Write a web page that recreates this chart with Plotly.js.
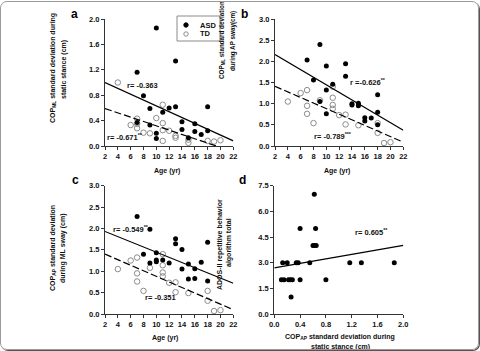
<!DOCTYPE html>
<html>
<head>
<meta charset="utf-8">
<script src="https://cdn.plot.ly/plotly-3.0.1.min.js"></script>
<style>
  html, body { margin: 0; padding: 0; background: #fff; }
  #wrap { position: relative; width: 480px; height: 351px; overflow: hidden; }
  #chart { position: absolute; left: 0; top: 0; width: 480px; height: 351px; }
  #frame { position: absolute; left: 0; top: 1px; width: 477px; height: 347px;
           border: 1px solid #9a9a9a; border-radius: 7px;
           box-shadow: 1px 1px 0 #555; pointer-events: none; }
</style>
</head>
<body>
<div id="wrap"><div id="chart"></div><div id="frame"></div></div>
<script>
// ---- Panel a: COP ML SD during static stance vs age ----
const ageA_ASD = [10, 7, 13, 8, 9, 11, 12, 13, 18, 7, 9, 14, 14, 10, 10, 15, 16, 16, 17, 18];
const copMLStatic_ASD = [1.86, 1.16, 1.34, 0.79, 0.59, 0.53, 0.60, 0.62, 0.62, 0.37, 0.33, 0.38, 0.26, 0.20, 0.12, 0.13, 0.35, 0.23, 0.18, 0.24];
const ageA_TD = [4, 7, 7, 7, 6, 8, 9, 10, 11, 11, 11, 11, 12, 13, 13, 15, 15, 18, 19, 20];
const copMLStatic_TD = [1.00, 0.43, 0.35, 0.28, 0.33, 0.21, 0.20, 0.44, 0.65, 0.36, 0.25, 0.08, 0.24, 0.16, 0.13, 0.10, 0.05, 0.08, 0.07, 0.09];

// ---- Panel b: COP ML SD during AP sway vs age ----
const ageB_ASD = [7, 9, 8, 10, 13, 13, 11, 10, 9, 10, 14, 14, 15, 15, 16, 16, 17, 18, 18, 18];
const copMLApSway_ASD = [2.03, 2.40, 1.56, 1.89, 1.94, 1.65, 1.46, 1.32, 1.05, 0.76, 0.97, 1.00, 1.01, 0.95, 0.67, 0.59, 0.66, 1.21, 0.80, 0.50];
const ageB_TD = [4, 6, 7, 7, 7, 8, 9, 11, 11, 11, 11, 12, 13, 13, 15, 18, 18, 19, 20];
const copMLApSway_TD = [1.05, 1.25, 1.32, 0.95, 0.76, 0.54, 1.08, 1.40, 1.14, 0.97, 0.88, 0.73, 0.74, 0.51, 0.49, 0.54, 0.31, 0.07, 0.09];

// ---- Panel c: COP AP SD during ML sway vs age ----
const ageC_ASD = [7, 9, 8, 9, 10, 10, 10, 11, 12, 13, 13, 14, 14, 15, 15, 16, 16, 17, 18, 18];
const copApMlSway_ASD = [2.28, 1.98, 1.40, 1.19, 1.43, 1.26, 1.22, 1.26, 1.19, 1.76, 1.64, 1.51, 1.05, 1.17, 0.82, 1.06, 0.83, 1.21, 1.68, 0.77];
const ageC_TD = [4, 6, 7, 7, 7, 8, 9, 11, 11, 11, 11, 12, 13, 13, 15, 18, 18, 19, 20];
const copApMlSway_TD = [1.05, 1.25, 1.32, 0.95, 0.76, 0.54, 1.08, 1.40, 1.14, 0.97, 0.88, 0.73, 0.74, 0.51, 0.49, 0.54, 0.31, 0.07, 0.09];

// ---- Panel d: ADOS-II repetitive behaviour vs COP AP SD (static) ----
const copApStatic_ASD = [0.62, 0.40, 0.64, 0.60, 0.62, 0.65, 0.13, 0.20, 0.34, 0.37, 0.55, 1.17, 1.35, 1.86, 0.11, 0.15, 0.22, 0.25, 0.28, 0.40, 0.80, 0.26];
const adosRepetitive = [7, 5, 5, 4, 4, 4, 3, 3, 3, 3, 3, 3, 3, 3, 2, 2, 2, 2, 2, 2, 2, 1];

// ---- Fitted regression lines (values at the ends of each x range) ----
const fitAgeX = [2, 22];
const fitA_ASD = [1.00, 0.08];
const fitA_TD = [0.59, -0.09];
const fitB_ASD = [2.16, 0.37];
const fitB_TD = [1.41, 0.09];
const fitC_ASD = [1.93, 0.72];
const fitC_TD = [1.40, 0.10];
const fitCopX = [0, 2];
const fitD = [2.70, 4.01];

// ---- Correlation labels ----
const rLabels = {
  aASD: 'r= -0.363', aTD: 'r= -0.671<sup>**</sup>',
  bASD: 'r =-0.626<sup>**</sup>', bTD: 'r= -0.789<sup>***</sup>',
  cASD: 'r= -0.549<sup>**</sup>', cTD: 'r= -0.351',
  d: 'r= 0.605<sup>**</sup>'
};

const W = 480, H = 351;
const px = x => x / W;
const py = y => 1 - y / H;
const FONT = 'Liberation Sans, Arial, sans-serif';
const INK = '#111111';
const OPEN = '#8c8c8c';
// rotated annotations land right of their anchor; pull them back
const ROT_DX = -24;

function filled(x, y, xa, ya) {
  return { type: 'scatter', mode: 'markers', x, y, xaxis: xa, yaxis: ya,
    marker: { symbol: 'circle', size: 5, color: '#000' },
    cliponaxis: false, showlegend: false, hoverinfo: 'skip' };
}
function hollow(x, y, xa, ya) {
  return { type: 'scatter', mode: 'markers', x, y, xaxis: xa, yaxis: ya,
    marker: { symbol: 'circle-open', size: 5.5, color: OPEN, line: { width: 1, color: OPEN } },
    cliponaxis: false, showlegend: false, hoverinfo: 'skip' };
}
function fit(x, y, xa, ya, dashed) {
  return { type: 'scatter', mode: 'lines', x, y, xaxis: xa, yaxis: ya,
    line: { color: '#000', width: 1.2, dash: dashed ? '7px,3px' : 'solid' },
    showlegend: false, hoverinfo: 'skip' };
}

const traces = [
  hollow(ageA_TD, copMLStatic_TD, 'x', 'y'),
  filled(ageA_ASD, copMLStatic_ASD, 'x', 'y'),
  fit(fitAgeX, fitA_ASD, 'x', 'y', false),
  fit(fitAgeX, fitA_TD, 'x', 'y', true),

  hollow(ageB_TD, copMLApSway_TD, 'x2', 'y2'),
  filled(ageB_ASD, copMLApSway_ASD, 'x2', 'y2'),
  fit(fitAgeX, fitB_ASD, 'x2', 'y2', false),
  fit(fitAgeX, fitB_TD, 'x2', 'y2', true),

  hollow(ageC_TD, copApMlSway_TD, 'x3', 'y3'),
  filled(ageC_ASD, copApMlSway_ASD, 'x3', 'y3'),
  fit(fitAgeX, fitC_ASD, 'x3', 'y3', false),
  fit(fitAgeX, fitC_TD, 'x3', 'y3', true),

  filled(copApStatic_ASD, adosRepetitive, 'x4', 'y4'),
  fit(fitCopX, fitD, 'x4', 'y4', false)
];

function axis(range, dtick, fmt, domain, anchor) {
  return { range, dtick, tick0: range[0], tickformat: fmt, domain, anchor,
    showline: true, linecolor: '#333', linewidth: 1,
    ticks: 'outside', ticklen: 3, tickwidth: 1, tickcolor: '#333',
    showgrid: false, zeroline: false, fixedrange: true,
    tickfont: { family: FONT, size: 7.5, color: INK, weight: 'bold' } };
}

// plot-area pixel boxes
const colL = [px(105), px(233.3)];
const colR = [px(275), px(403.3)];
const colRd = [px(274.3), px(403.3)];
const rowT = [py(146), py(19)];
const rowB = [py(314), py(185.7)];

function label(text, x, y, opts) {
  return Object.assign({ text, x: px(x), y: py(y), xref: 'paper', yref: 'paper',
    showarrow: false, xanchor: 'center', yanchor: 'middle',
    font: { family: FONT, size: 7, color: INK, weight: 'bold' } }, opts || {});
}
function vlabel(text, x, y, size) {
  return label(text, x + ROT_DX, y, { textangle: -90,
    font: { family: FONT, size: size || 7, color: INK, weight: 'bold' } });
}
const rFont = { family: FONT, size: 7.5, color: INK, weight: 'bold' };
const letterFont = { family: FONT, size: 12, color: '#000', weight: 'bold' };

const annotations = [
  // panel letters
  label('a', 74, 14, { font: letterFont }),
  label('b', 245, 14, { font: letterFont }),
  label('c', 75, 180, { font: letterFont }),
  label('d', 242, 180, { font: letterFont }),

  // axis titles
  vlabel('COP<sub>ML</sub> standard deviation during', 77, 68),
  vlabel('static stance (cm)', 88, 70),
  label('Age (yr)', 167, 171),

  vlabel('COP<sub>ML</sub> standard deviation', 246, 40, 6.3),
  vlabel('during AP sway(cm)', 257, 41, 6.3),
  label('Age (yr)', 337, 171),

  vlabel('COP<sub>AP</sub> standard deviation', 77, 248),
  vlabel('during ML sway (cm)', 87, 248),
  label('Age (yr)', 165, 338),

  vlabel('ADOS-II repetitive behavior', 244, 245),
  vlabel('algorithm total', 253, 243),
  label('COP<sub>AP</sub> standard deviation during', 340, 337),
  label('static stance (cm)', 340, 346.5),

  // correlation labels
  label(rLabels.aASD, 142, 86, { font: rFont }),
  label(rLabels.aTD, 125, 137, { font: rFont }),
  label(rLabels.bASD, 368, 82, { font: rFont }),
  label(rLabels.bTD, 333, 136, { font: rFont }),
  label(rLabels.cASD, 131, 229, { font: rFont }),
  label(rLabels.cTD, 160, 297, { font: rFont }),
  label(rLabels.d, 371, 232, { font: rFont }),

  // legend entries
  label('ASD', 198, 25, { xanchor: 'left', font: rFont }),
  label('TD', 198, 34, { xanchor: 'left', font: rFont })
];

// legend box and keys
function dot(cx, cy, r, fill, stroke) {
  return { type: 'circle', xref: 'paper', yref: 'paper',
    x0: px(cx - r), x1: px(cx + r), y0: py(cy + r), y1: py(cy - r),
    fillcolor: fill, line: { color: stroke, width: 1 } };
}
const shapes = [
  { type: 'rect', xref: 'paper', yref: 'paper', x0: px(177), x1: px(220), y0: py(41), y1: py(16),
    line: { color: '#8a8a8a', width: 1 }, fillcolor: 'rgba(0,0,0,0)' },
  dot(186, 25, 2.2, '#000', '#000'),
  dot(186, 34, 2.2, 'rgba(0,0,0,0)', OPEN)
];

const layout = {
  width: W, height: H,
  margin: { l: 0, r: 0, t: 0, b: 0 },
  paper_bgcolor: '#fff', plot_bgcolor: 'rgba(0,0,0,0)',
  showlegend: false,
  font: { family: FONT, color: INK },
  xaxis: axis([2, 22], 2, 'd', colL, 'y'),
  yaxis: axis([0, 2], 0.4, '.1f', rowT, 'x'),
  xaxis2: axis([2, 22], 2, 'd', colR, 'y2'),
  yaxis2: axis([0, 3], 0.5, '.1f', rowT, 'x2'),
  xaxis3: axis([2, 22], 2, 'd', colL, 'y3'),
  yaxis3: axis([0, 3], 0.5, '.1f', rowB, 'x3'),
  xaxis4: axis([0, 2], 0.4, '.1f', colRd, 'y4'),
  yaxis4: axis([0, 7.5], 1.5, '.1f', rowB, 'x4'),
  annotations, shapes
};

Plotly.newPlot('chart', traces, layout, { staticPlot: true, displayModeBar: false });
</script>
</body>
</html>
